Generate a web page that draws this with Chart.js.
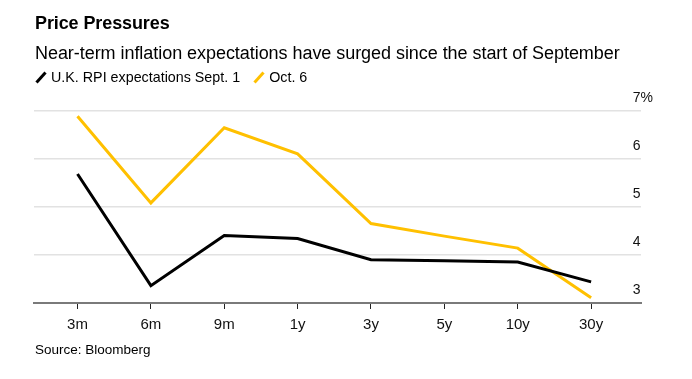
<!DOCTYPE html>
<html>
<head>
<meta charset="utf-8">
<script src="https://cdn.jsdelivr.net/npm/chart.js@4/dist/chart.umd.min.js"></script>
<style>
  html, body { margin: 0; padding: 0; background: #fff; }
  body { width: 692px; height: 379px; position: relative; overflow: hidden; font-family: "Liberation Sans", Arial, sans-serif; color: #000; }
  #title { position: absolute; left: 35px; top: 13px; font-size: 18px; font-weight: bold; letter-spacing: -0.1px; }
  #subtitle { position: absolute; left: 35px; top: 43px; font-size: 18px; letter-spacing: -0.05px; }
  #legend { position: absolute; left: 35px; top: 69px; font-size: 14.3px; display: flex; align-items: center; }
  #legend .item { display: flex; align-items: center; margin-right: 13px; }
  #legend svg { margin-right: 4px; }
  #source { position: absolute; left: 35px; top: 342px; font-size: 13.5px; }
  #wrap { position: absolute; left: 0; top: 0; width: 692px; height: 379px; }
</style>
</head>
<body>
<div id="wrap"><canvas id="c" width="692" height="379"></canvas></div>
<div id="title">Price Pressures</div>
<div id="subtitle">Near-term inflation expectations have surged since the start of September</div>
<div id="legend"></div>
<div id="source">Source: Bloomberg</div>
<script>
const categories = ['3m', '6m', '9m', '1y', '3y', '5y', '10y', '30y'];
const sept1 = [5.68, 3.36, 4.40, 4.34, 3.90, 3.88, 3.85, 3.44];
const oct6 = [6.88, 5.08, 6.64, 6.10, 4.65, 4.39, 4.14, 3.11];
const seriesNames = ['U.K. RPI expectations Sept. 1', 'Oct. 6'];
const seriesColors = ['#000000', '#FFC000'];
const yTickValues = [3, 4, 5, 6, 7];
const yTickLabels = ['3', '4', '5', '6', '7%'];

// HTML legend
const legend = document.getElementById('legend');
seriesNames.forEach((name, i) => {
  const item = document.createElement('div');
  item.className = 'item';
  item.innerHTML = '<svg width="12" height="13"><line x1="1.5" y1="11.5" x2="10.5" y2="1.5" stroke="' + seriesColors[i] + '" stroke-width="3"/></svg><span>' + name + '</span>';
  legend.appendChild(item);
});

const toPoints = arr => arr.map((v, i) => ({ x: i, y: v }));

new Chart(document.getElementById('c'), {
  type: 'line',
  data: {
    datasets: [
      { label: seriesNames[0], data: toPoints(sept1), borderColor: seriesColors[0], borderWidth: 3, pointRadius: 0, tension: 0, fill: false },
      { label: seriesNames[1], data: toPoints(oct6), borderColor: seriesColors[1], borderWidth: 3, pointRadius: 0, tension: 0, fill: false }
    ]
  },
  options: {
    responsive: false,
    animation: false,
    events: [],
    layout: { padding: { left: 34, right: 21, top: 110.5, bottom: 38 } },
    plugins: { legend: { display: false }, tooltip: { enabled: false }, title: { display: false } },
    scales: {
      x: {
        type: 'linear',
        min: -0.593,
        max: 7.68,
        afterBuildTicks: s => { s.ticks = categories.map((c, i) => ({ value: i })); },
        grid: { drawOnChartArea: false, drawTicks: true, tickLength: 6, tickColor: '#222', tickWidth: 1 },
        border: { display: true, color: '#7a7a7a', width: 2 },
        ticks: {
          padding: 7,
          color: '#111',
          font: { family: 'Liberation Sans', size: 15 },
          maxRotation: 0,
          autoSkip: false,
          callback: v => categories[v] !== undefined ? categories[v] : ''
        }
      },
      y: {
        position: 'right',
        min: 3,
        max: 7,
        afterBuildTicks: s => { s.ticks = yTickValues.map(v => ({ value: v })); },
        afterFit: s => { s.width = 30; },
        grid: { color: '#e2e2e2', lineWidth: 1.5, drawTicks: false },
        border: { display: false },
        ticks: {
          mirror: true,
          padding: 12,
          labelOffset: -12.5,
          crossAlign: 'far',
          color: '#111',
          font: { family: 'Liberation Sans', size: 14 },
          callback: v => yTickLabels[yTickValues.indexOf(v)]
        }
      }
    }
  }
});
</script>
</body>
</html>
